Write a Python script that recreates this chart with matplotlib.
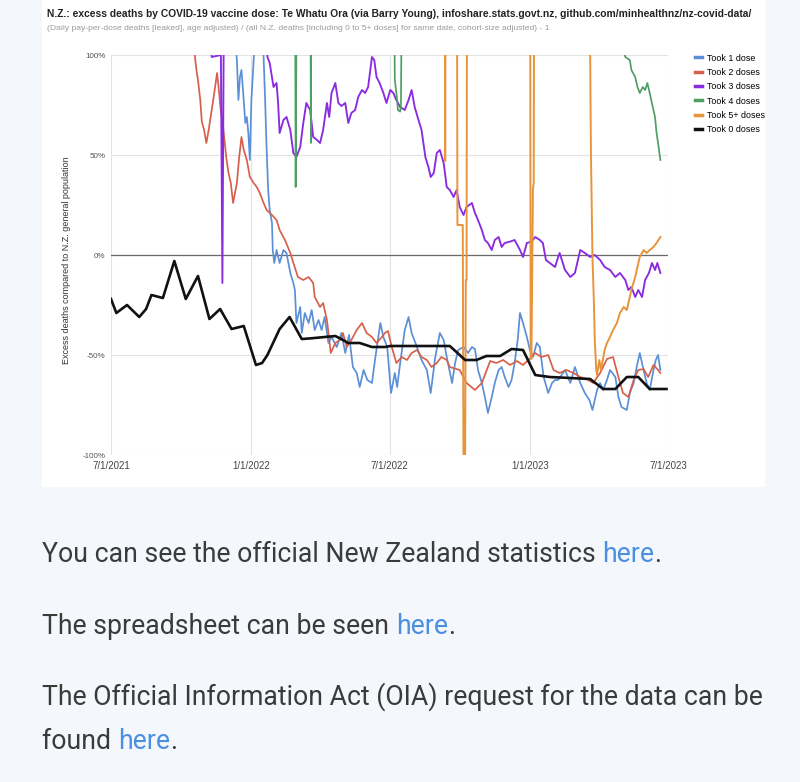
import numpy as np
import matplotlib
matplotlib.use("Agg")
import matplotlib.pyplot as plt
from matplotlib.lines import Line2D
from matplotlib.patches import Rectangle

# ---------------- data (days since 2021-07-01, percent excess) ----------------
start_date = "2021-07-01"
x_tick_labels = ["7/1/2021", "1/1/2022", "7/1/2022", "1/1/2023", "7/1/2023"]
x_tick_days = [0, 184, 365, 549, 730]
y_ticks = [-100, -50, 0, 50, 100]
y_tick_labels = ["-100%", "-50%", "0%", "50%", "100%"]

dose1_days = [157, 165, 167, 169, 171, 173, 176, 178, 180, 182, 184, 187, 190, 195, 200, 202, 204, 206, 208,
              211, 212, 214, 217, 221, 226, 230, 235, 239, 241, 243, 248, 250, 254, 259, 263, 267, 272, 276,
              280, 285, 289, 296, 302, 307, 312, 317, 322, 326, 331, 336, 342, 346, 353, 357, 362, 367, 372,
              375, 379, 385, 390, 394, 401, 407, 414, 419, 425, 431, 436, 440, 447, 451, 455, 462, 468, 473,
              477, 481, 486, 490, 494, 499, 503, 508, 512, 516, 521, 525, 529, 533, 536, 540, 545, 549, 553,
              558, 562, 567, 573, 578, 582, 586, 595, 602, 608, 615, 621, 627, 631, 637, 641, 645, 650, 654,
              661, 665, 669, 676, 680, 685, 689, 693, 698, 702, 706, 711, 714, 717, 720]
dose1_vals = [140, 97.5, 77.5, 89, 92.5, 82.5, 66, 69, 61, 47.5, 77.5, 97.5, 120, 130, 99, 77.5, 52.5, 32.5,
              22.5, 16, 2.5, -4, 2.5, -4, 2.5, 1, -9, -14, -17.5, -34, -26, -39, -29, -34, -27.5, -37.5,
              -32.5, -37.5, -31, -44, -41, -46, -39, -49, -40, -56, -59, -66, -57.5, -62.5, -64, -52.5, -34,
              -41, -46, -69, -59, -66, -54, -37.5, -31, -39, -46, -52.5, -57.5, -69, -51, -39, -42.5, -51,
              -64, -54, -47.5, -46, -49, -46, -47, -57.5, -64, -71, -79, -71, -64, -57.5, -56, -61, -66,
              -62.5, -54, -42.5, -29, -34, -41, -47.5, -51, -44, -46, -61, -69, -64, -62.5, -62.5, -57.5,
              -64, -56, -64, -69, -72.5, -77.5, -67.5, -64, -67.5, -62.5, -57.5, -61, -71, -76, -77.5, -69,
              -64, -56, -49, -57.5, -64, -67.5, -57.5, -52.5, -50, -57.5]

dose2_days = [105, 110, 112, 114, 117, 119, 122, 125, 128, 131, 134, 139, 141, 144, 146, 151, 154, 157, 160,
              165, 168, 171, 174, 178, 182, 187, 191, 195, 200, 204, 211, 217, 221, 228, 235, 239, 245, 252,
              259, 265, 267, 274, 278, 283, 288, 294, 300, 304, 309, 315, 322, 329, 335, 342, 348, 355, 359,
              363, 368, 374, 381, 388, 394, 401, 407, 414, 420, 427, 433, 440, 444, 457, 466, 477, 486, 497,
              505, 514, 523, 532, 540, 547, 556, 564, 573, 580, 588, 597, 606, 615, 623, 632, 641, 650, 658,
              665, 671, 678, 685, 691, 698, 704, 711, 717, 720]
dose2_vals = [130, 99, 92.5, 87.5, 77.5, 66.7, 62.5, 56, 62.5, 70, 77.5, 91, 84, 71.7, 67.5, 49, 41, 36, 26,
              36, 49, 59, 52.5, 47.5, 39, 36, 34, 31, 26, 22.5, 20, 17.5, 12.5, 7.5, 1, -4, -11, -12.5, -11,
              -14, -21, -26, -24, -32.5, -49, -44, -42.5, -39, -46, -42.5, -37.5, -34, -39, -41, -44, -41,
              -39, -38, -46, -54, -51, -52.5, -49, -47.5, -51, -52.5, -56, -54, -51, -52.5, -56, -57.5, -64,
              -67.5, -64, -53, -54, -52.5, -55, -53, -55, -52.5, -49, -51, -50, -57.5, -59, -57.5, -59, -61,
              -62, -64, -59, -52, -51, -61, -69, -71, -62.5, -57.5, -57, -61, -55, -57.5, -59]

dose3_days = [127, 132, 138, 144, 146, 148, 200, 204, 205, 208, 213, 217, 219, 221, 226, 230, 235, 239, 243,
              248, 252, 256, 261, 265, 270, 274, 278, 283, 286, 289, 294, 298, 302, 307, 311, 315, 320, 324,
              329, 333, 337, 342, 345, 348, 352, 357, 361, 366, 370, 374, 379, 385, 390, 394, 398, 403, 407,
              412, 416, 419, 423, 427, 431, 436, 440, 444, 449, 453, 457, 462, 466, 473, 477, 481, 486, 490,
              494, 499, 503, 508, 512, 516, 523, 529, 536, 540, 545, 551, 556, 562, 566, 570, 575, 582, 586,
              588, 595, 602, 608, 615, 621, 628, 634, 641, 647, 654, 661, 667, 674, 678, 682, 687, 691, 696,
              700, 705, 709, 713, 716, 720]
dose3_vals = [130, 99, 99.5, 100, -14, 130, 140, 105, 99, 96, 84, 86, 76, 61, 67.5, 69, 62.5, 51, 49, 54, 66,
              76, 72.5, 59, 57.5, 56, 62.5, 76, 69, 81, 86, 76, 74.5, 76, 66, 71, 72.5, 79, 82.5, 81, 84, 99,
              97.5, 89, 86, 81, 76, 82.5, 81, 77.5, 74, 72.5, 77.5, 82.5, 74, 67.5, 62.5, 49, 44, 39, 41, 51,
              52.5, 46, 34, 32.5, 29, 32.5, 24, 20, 24, 26, 21, 17.5, 12.5, 7.5, 6, 2.5, 7.5, 9, 4, 6, 6.7,
              7.5, 2.5, -1, 6, 6.7, 9, 7.5, 6, -2.5, -4, -6, -1, 1, -7.5, -11, -9, 2.5, 1, -1, 0, -2.5, -6,
              -7.5, -11, -9, -12.5, -17.5, -16, -21, -17.5, -21, -12.5, -9, -4, -7.5, -4, -9]

dose4_days = [170, 241, 242, 244, 261, 262, 263, 370, 372, 375, 376, 379, 380, 382, 600, 668, 674, 680, 682,
              687, 690, 693, 697, 700, 703, 706, 710, 713, 715, 717, 720]
dose4_vals = [180, 180, 34, 180, 180, 56, 180, 180, 87.5, 77.5, 72.5, 71.7, 75, 180, 180, 110, 99, 97.5, 92.5,
              89, 84, 81, 84, 82.5, 86, 81, 74, 69, 61, 56, 47.5]

dose5_days = [430, 437, 438, 439, 453, 454, 461, 462, 464, 465, 466, 467, 548, 549, 550, 551, 553, 554, 555,
              626, 628, 629, 630, 631, 633, 634, 636, 637, 640, 642, 647, 650, 654, 658, 663, 667, 672, 676,
              679, 682, 687, 690, 693, 698, 702, 706, 711, 715, 720]
dose5_vals = [250, 250, 47, 250, 250, 15, 15, -110, -110, -12.5, -12.5, 250, 250, 250, -51, -52, 33, 36, 250,
              250, 100, 51, 25, -1, -25, -42.5, -57.5, -60, -52.5, -57.5, -47.5, -44, -41, -37.5, -34, -29,
              -26, -27.5, -22.5, -17.5, -11, -6, -1, 2.5, 1, 2.5, 4, 6, 9]

dose0_days = [0, 7, 21, 37, 46, 53, 68, 83, 98, 114, 129, 143, 158, 174, 190, 198, 205, 221, 234, 250, 261,
              294, 304, 311, 326, 342, 359, 366, 444, 457, 464, 479, 492, 510, 525, 540, 556, 575, 628, 645,
              661, 676, 691, 706, 728]
dose0_vals = [-22, -29, -25, -31, -27, -20, -21.5, -3, -22, -10.5, -32, -27, -37, -35.5, -55, -54, -50, -37,
              -31, -42, -41.7, -40.5, -42.5, -44, -44, -46, -46, -45.5, -45.5, -50, -52.5, -52.5, -50.5,
              -50.5, -47, -47.5, -60, -61, -62, -67, -67, -61, -61, -67, -67]

series_labels = ["Took 1 dose", "Took 2 doses", "Took 3 doses", "Took 4 doses", "Took 5+ doses", "Took 0 doses"]

title = ("N.Z.: excess deaths by COVID-19 vaccine dose: Te Whatu Ora (via Barry Young), "
         "infoshare.stats.govt.nz, github.com/minhealthnz/nz-covid-data/")
subtitle = ("(Daily pay-per-dose deaths [leaked], age adjusted) / (all N.Z. deaths [including 0 to 5+ doses] "
            "for same date, cohort-size adjusted) - 1")
y_label = "Excess deaths compared to N.Z. general population"

body_lines = [
    ("You can see the official New Zealand statistics ", "here", "."),
    ("The spreadsheet can be seen ", "here", "."),
    ("The Official Information Act (OIA) request for the data can be", "", ""),
    ("found ", "here", "."),
]

# ---------------- drawing ----------------
W, H = 800, 782
fig = plt.figure(figsize=(W / 100, H / 100), dpi=100)
fig.patch.set_facecolor("#f4f7fb")

# white card behind chart
fig.add_artist(Rectangle((42 / W, 1 - 487 / H), (765 - 42) / W, 487 / H + 0.01,
                         transform=fig.transFigure, facecolor="white", edgecolor="none", zorder=0))

ax = fig.add_axes([111 / W, 1 - 455 / H, (668 - 111) / W, 400 / H])
ax.set_facecolor("white")

base = np.datetime64(start_date)


def to_dates(days):
    return base + np.array(days).astype("timedelta64[D]")


colors = ["#5b8fd8", "#d7604b", "#8a2be0", "#4f9f63", "#e8943a", "#111111"]
widths = [1.25, 1.25, 1.35, 1.25, 1.4, 1.9]
all_days = [dose1_days, dose2_days, dose3_days, dose4_days, dose5_days, dose0_days]
all_vals = [dose1_vals, dose2_vals, dose3_vals, dose4_vals, dose5_vals, dose0_vals]
order = [4, 3, 2, 0, 1, 5]
for i in order:
    ax.plot(to_dates(all_days[i]), all_vals[i], color=colors[i], lw=widths[i], zorder=3 + i * 0.1,
            solid_joinstyle="round")

ax.set_xlim(to_dates([x_tick_days[0]])[0], to_dates([x_tick_days[-1]])[0])
ax.set_ylim(-100, 100)
ax.set_xticks(to_dates(x_tick_days))
ax.set_xticklabels(x_tick_labels, fontsize=7, color="#444444", family="Liberation Sans")
ax.set_yticks(y_ticks)
ax.set_yticklabels(y_tick_labels, fontsize=5.8, color="#555555", family="Liberation Sans")
ax.tick_params(axis="both", length=0)
ax.tick_params(axis="y", pad=4)
ax.tick_params(axis="x", pad=4.5)
for s in ax.spines.values():
    s.set_visible(False)
ax.grid(True, color="#e3e3e3", lw=0.8, zorder=0)
ax.axhline(0, color="#6a6a6a", lw=0.9, zorder=1)
ax.set_axisbelow(True)

ax.set_ylabel(y_label, fontsize=6.5, color="#333333", family="Liberation Sans")
ax.yaxis.set_label_coords(-0.071, 0.4875)

fig.text(47 / W, 1 - 14 / H, title, fontsize=7.4, fontweight="bold", color="#222222",
         family="Liberation Sans", va="center", ha="left")
fig.text(47 / W, 1 - 29 / H, subtitle, fontsize=6.1, color="#9a9a9a",
         family="Liberation Sans", va="center", ha="left")

handles = [Line2D([0], [0], color=c, lw=2.5) for c in colors]
fig.legend(handles, series_labels, loc="upper left", bbox_to_anchor=(691 / W, 1 - 50 / H),
           frameon=False, prop={"family": "Liberation Sans", "size": 6.4}, handlelength=0.8,
           handletextpad=0.6, labelspacing=0.6, borderaxespad=0)

# body text with links (pieces placed one after another on the same baseline)
text_color = "#3b3b3b"
link_color = "#4a8fe0"
baseline_y = [562, 634, 705, 749]
renderer = fig.canvas.get_renderer()
for pieces, yy in zip(body_lines, baseline_y):
    x_px = 42
    for piece, col in zip(pieces, [text_color, link_color, text_color]):
        if not piece:
            continue
        t = fig.text(x_px / W, 1 - yy / H, piece, fontsize=19.2, color=col, family="Roboto",
                     va="baseline", ha="left")
        x_px = t.get_window_extent(renderer).x1

fig.savefig("out.png", dpi=100, facecolor=fig.get_facecolor())
